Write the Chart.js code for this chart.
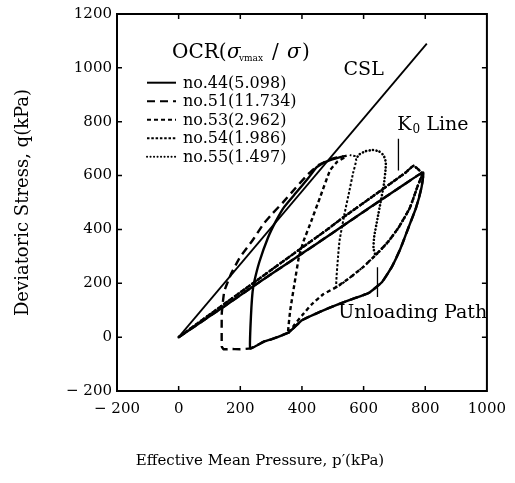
<!DOCTYPE html>
<html><head><meta charset="utf-8">
<script src="https://cdn.jsdelivr.net/npm/chart.js@4.4.1/dist/chart.umd.min.js"></script>
<style>html,body{margin:0;padding:0;background:#fff}#wrap{width:515px;height:483px}</style>
</head><body><div id="wrap"><canvas id="c" width="515" height="483"></canvas></div>
<script>
// ---- axis ticks ----
const xTickValues = [-200, 0, 200, 400, 600, 800, 1000];
const yTickValues = [-200, 0, 200, 400, 600, 800, 1000, 1200];
const seriesNames = ['no.44(5.098)', 'no.51(11.734)', 'no.53(2.962)', 'no.54(1.986)', 'no.55(1.497)'];

// ---- critical state line ----
const cslP = [0, 805];
const cslQ = [0, 1090];

// ---- K0 loading lines ----
const k0LowerP = [0, 60, 150, 236, 320, 406, 480, 544, 620, 724, 793];
const k0LowerQ = [0, 46, 116, 184, 249, 315, 372, 422, 481, 561, 612];
const k0UpperP = [0, 60, 150, 236, 320, 406, 480, 533, 620, 700, 735, 762, 790];
const k0UpperQ = [0, 50, 125, 196, 266, 337, 398, 444, 515, 581, 610, 636, 608];

// ---- unloading paths ----
const unloadOuterP = [788, 770, 746, 720, 692, 660, 618, 560, 517, 460, 400, 358, 320, 300, 280, 255, 232];
const unloadOuterQ = [557, 480, 408, 330, 262, 205, 165, 140, 122, 95, 63, 18, 0, -8, -15, -30, -42];
const unloadInnerP = [775, 750, 714, 680, 639, 600, 560, 512, 470, 430, 400, 375, 355];
const unloadInnerQ = [560, 480, 408, 355, 305, 262, 225, 186, 160, 120, 80, 45, 15];

// ---- undrained shear paths ----
const no44ShearP = [233, 236, 240, 245, 262, 290, 315, 342, 380, 420, 448, 475, 510, 545];
const no44ShearQ = [40, 110, 170, 205, 280, 370, 430, 483, 535, 590, 631, 650, 664, 674];
const no51ShearP = [200, 170, 146, 140, 140, 148, 170, 199, 240, 275, 305, 342, 380, 420, 455, 495, 535];
const no51ShearQ = [-45, -44, -45, -35, 90, 170, 235, 297, 360, 420, 460, 505, 555, 605, 640, 662, 672];
const no53ShearP = [362, 376, 390, 406, 427, 459, 491, 515, 540];
const no53ShearQ = [100, 200, 297, 359, 421, 520, 619, 652, 668];
const no54ShearP = [517, 522, 538, 554, 566, 576, 572, 555];
const no54ShearQ = [297, 359, 458, 544, 610, 656, 672, 676];
const no55ShearP = [632, 634, 645, 655, 666, 671, 672, 665, 650, 629, 605, 585, 576];
const no55ShearQ = [330, 371, 440, 500, 569, 620, 650, 675, 690, 695, 690, 678, 662];

// ---- helpers to build library tables ----
function pts(P, Q) { return P.map((p, i) => ({x: p, y: Q[i]})); }
function cut(P, Q, pEnd) { const i = P.indexOf(pEnd); return pts(P.slice(0, i + 1), Q.slice(0, i + 1)); }

const no44Data = [...pts(k0LowerP, k0LowerQ), ...pts(unloadOuterP, unloadOuterQ), ...pts(no44ShearP, no44ShearQ)];
const no51Data = [...pts(k0LowerP, k0LowerQ), ...pts(unloadOuterP, unloadOuterQ), ...pts(no51ShearP, no51ShearQ)];
const no53Data = [...pts(k0UpperP, k0UpperQ), ...pts(unloadInnerP, unloadInnerQ), ...pts(no53ShearP, no53ShearQ)];
const no54Data = [...pts(k0UpperP, k0UpperQ), ...cut(unloadInnerP, unloadInnerQ, 512), ...pts(no54ShearP, no54ShearQ)];
const no55Data = [...pts(k0UpperP, k0UpperQ), ...cut(unloadInnerP, unloadInnerQ, 639), ...pts(no55ShearP, no55ShearQ)];

const FONT = '"DejaVu Serif", "Liberation Serif", serif';
const styles = [
  {dash: [], w: 2.4, cap: 'butt'},
  {dash: [8, 5], w: 2.4, cap: 'butt'},
  {dash: [4, 3], w: 2.4, cap: 'butt'},
  {dash: [2.5, 1.8], w: 2.0, cap: 'butt'},
  {dash: [0.1, 3.4], w: 2.6, cap: 'round'}
];
const seriesData = [no44Data, no51Data, no53Data, no54Data, no55Data];

const datasets = [{
  label: 'CSL', data: pts(cslP, cslQ), borderColor: '#000', borderWidth: 1.8,
  showLine: true, pointRadius: 0, inLegend: false, xAxisID: 'x', yAxisID: 'y'
}].concat(seriesNames.map((n, i) => ({
  label: n, data: seriesData[i], borderColor: '#000', borderWidth: styles[i].w,
  borderDash: styles[i].dash, borderCapStyle: styles[i].cap, borderJoinStyle: 'round',
  showLine: true, pointRadius: 0, tension: 0.12, inLegend: true, xAxisID: 'x', yAxisID: 'y'
})));

const fmt = v => v < 0 ? '\u2212 ' + Math.abs(v) : String(v);

const framePlugin = {
  id: 'frame',
  afterDraw(chart) {
    const ctx = chart.ctx, a = chart.chartArea, xs = chart.scales.x, ys = chart.scales.y;
    ctx.save();
    ctx.strokeStyle = '#000'; ctx.setLineDash([]);
    ctx.lineWidth = 2;
    ctx.strokeRect(a.left, a.top, a.right - a.left, a.bottom - a.top);
    ctx.lineWidth = 1.5;
    const L = 5;
    xs.ticks.forEach(t => {
      const px = xs.getPixelForValue(t.value);
      if (px <= a.left + 1 || px >= a.right - 1) return;
      ctx.beginPath(); ctx.moveTo(px, a.bottom); ctx.lineTo(px, a.bottom - L);
      ctx.moveTo(px, a.top); ctx.lineTo(px, a.top + L); ctx.stroke();
    });
    ys.ticks.forEach(t => {
      const py = ys.getPixelForValue(t.value);
      if (py <= a.top + 1 || py >= a.bottom - 1) return;
      ctx.beginPath(); ctx.moveTo(a.left, py); ctx.lineTo(a.left + L, py);
      ctx.moveTo(a.right, py); ctx.lineTo(a.right - L, py); ctx.stroke();
    });

    // annotations (positions in data units)
    ctx.fillStyle = '#000'; ctx.textBaseline = 'middle'; ctx.textAlign = 'left';
    ctx.font = '19px ' + FONT;
    ctx.fillText('CSL', xs.getPixelForValue(535), ys.getPixelForValue(993));
    const kx = xs.getPixelForValue(709), ky = ys.getPixelForValue(789);
    ctx.fillText('K', kx, ky);
    const kw = ctx.measureText('K').width;
    ctx.font = '12px ' + FONT;
    ctx.fillText('0', kx + kw + 1, ky + 5);
    ctx.font = '19px ' + FONT;
    ctx.fillText('Line', kx + kw + 15, ky);
    ctx.fillText('Unloading Path', xs.getPixelForValue(518), ys.getPixelForValue(89));
    ctx.lineWidth = 1.3;
    ctx.beginPath();
    ctx.moveTo(xs.getPixelForValue(713), ys.getPixelForValue(737));
    ctx.lineTo(xs.getPixelForValue(713), ys.getPixelForValue(619));
    ctx.moveTo(xs.getPixelForValue(645), ys.getPixelForValue(260));
    ctx.lineTo(xs.getPixelForValue(645), ys.getPixelForValue(149));
    ctx.stroke();

    // legend
    const lx = a.left, ly = a.top;
    ctx.textBaseline = 'alphabetic';
    ctx.font = '20px ' + FONT;
    ctx.fillText('OCR(', lx + 55, ly + 44);
    ctx.font = 'italic 20px ' + FONT;
    ctx.fillText('\u03c3', lx + 110, ly + 44);
    ctx.font = '9px ' + FONT;
    ctx.fillText('vmax', lx + 122, ly + 47);
    ctx.font = '20px ' + FONT;
    ctx.fillText('/', lx + 155, ly + 44);
    ctx.font = 'italic 20px ' + FONT;
    ctx.fillText('\u03c3', lx + 170, ly + 44);
    ctx.font = '20px ' + FONT;
    ctx.fillText(')', lx + 185, ly + 44);

    ctx.font = '16px ' + FONT;
    ctx.textBaseline = 'middle';
    chart.data.datasets.filter(d => d.inLegend).forEach((d, i) => {
      const y = ly + 68.7 + i * 18.5;
      ctx.save();
      ctx.lineWidth = Math.min(d.borderWidth, 2); ctx.setLineDash(d.borderDash || []);
      ctx.lineCap = d.borderCapStyle || 'butt';
      ctx.beginPath(); ctx.moveTo(lx + 30, y); ctx.lineTo(lx + 59, y); ctx.stroke();
      ctx.restore();
      ctx.fillText(d.label, lx + 66, y + 1);
    });
    ctx.restore();
  }
};

new Chart(document.getElementById('c'), {
  type: 'scatter',
  data: {datasets},
  options: {
    responsive: false, animation: false, devicePixelRatio: 1,
    layout: {padding: {top: 13, right: 8, left: 13, bottom: 0}},
    plugins: {
      legend: {display: false}, tooltip: {enabled: false},
      title: {display: true, position: 'bottom', text: 'Effective Mean Pressure, p\u2032(kPa)',
        color: '#000', font: {family: FONT, size: 15, weight: 'normal'}, padding: {top: 0, bottom: 13}}
    },
    scales: {
      x: {
        type: 'linear', min: -200, max: 1000,
        afterBuildTicks: s => { s.ticks = xTickValues.map(v => ({value: v})); },
        afterFit: s => { s.height = 61; },
        grid: {display: false, drawTicks: false}, border: {display: false},
        ticks: {color: '#000', padding: 9, font: {family: FONT, size: 15}, callback: fmt, maxRotation: 0, autoSkip: false}
      },
      y: {
        type: 'linear', min: -200, max: 1200,
        afterBuildTicks: s => { s.ticks = yTickValues.map(v => ({value: v})); },
        afterFit: s => { s.width = 104; },
        grid: {display: false, drawTicks: false}, border: {display: false},
        ticks: {color: '#000', padding: 5, font: {family: FONT, size: 15}, callback: fmt, autoSkip: false},
        title: {display: true, text: 'Deviatoric Stress, q(kPa)', color: '#000',
          font: {family: FONT, size: 18, weight: 'normal'}, padding: {top: 0, bottom: 0}}
      },
      yRight: {
        type: 'linear', position: 'right', min: -200, max: 1200,
        afterFit: s => { s.width = 13; },
        grid: {display: false, drawTicks: false}, border: {display: false},
        ticks: {display: false}
      }
    }
  },
  plugins: [framePlugin]
});
</script></body></html>
